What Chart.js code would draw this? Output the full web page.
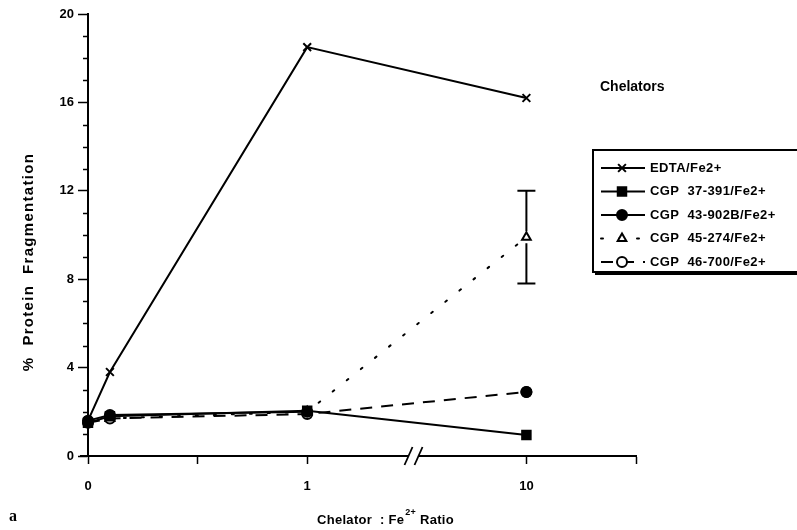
<!DOCTYPE html>
<html><head><meta charset="utf-8">
<script src="https://cdn.jsdelivr.net/npm/chart.js@4/dist/chart.umd.min.js"></script>
<style>html,body{margin:0;padding:0;background:#fff;}canvas{display:block;}</style>
</head><body>
<canvas id="c" width="797" height="530"></canvas>
<script>
// ---- data ----
const ratios = [0, 0.1, 1, 10];                 // Chelator : Fe2+ ratio
const edta      = [1.6, 3.8, 18.5, 16.2];
const cgp37391  = [1.5, 1.8, 2.05, 0.95];
const cgp43902B = [1.6, 1.85, 2.0, 2.9];
const cgp45274  = [1.6, 1.7, 2.0, 9.9];
const cgp46700  = [1.5, 1.7, 1.9, 2.9];
const err45274Low  = [null, null, null, 7.8];
const err45274High = [null, null, null, 12.0];
const seriesNames = ['EDTA/Fe2+', 'CGP  37-391/Fe2+', 'CGP  43-902B/Fe2+', 'CGP  45-274/Fe2+', 'CGP  46-700/Fe2+'];
const xTickPositions = [0, 1, 2, 4, 5];
const xTickLabels    = ['0', '', '1', '10', ''];
const yTickValues = [0, 4, 8, 12, 16, 20];

// broken axis: 0..1 linear, then 1 -> 10 after the break
const xPos = r => r <= 1 ? 2 * r : 2 + 2 * Math.log10(r);
const pts = arr => ratios.map((r, i) => ({x: xPos(r), y: arr[i]}));

Chart.defaults.font.family = "'Liberation Sans', Arial, sans-serif";
Chart.defaults.color = '#000';
const FF = "'Liberation Sans', Arial, sans-serif";

const extras = {
  id: 'extras',
  afterDraw(chart) {
    const ctx = chart.ctx, xs = chart.scales.x, ys = chart.scales.y;
    const left = chart.chartArea.left, bottom = chart.chartArea.bottom;
    ctx.save();
    ctx.strokeStyle = '#000'; ctx.fillStyle = '#000';
    // minor y ticks
    ctx.lineWidth = 1.5;
    for (let v = 0; v <= 20; v++) {
      if (v % 4 === 0) continue;
      const py = Math.round(ys.getPixelForValue(v)) + 0.5;
      ctx.beginPath(); ctx.moveTo(left - 5, py); ctx.lineTo(left, py); ctx.stroke();
    }
    // x axis small extension to the left
    ctx.lineWidth = 2;
    ctx.beginPath(); ctx.moveTo(left - 8, bottom); ctx.lineTo(left, bottom); ctx.stroke();
    // axis break
    const bx = xs.getPixelForValue(2.97);
    ctx.fillStyle = '#fff';
    ctx.fillRect(bx - 5, bottom - 3, 10, 6);
    ctx.strokeStyle = '#000'; ctx.lineWidth = 1.8;
    [-5, 5].forEach(d => {
      ctx.beginPath(); ctx.moveTo(bx + d - 4, bottom + 9); ctx.lineTo(bx + d + 4, bottom - 9); ctx.stroke();
    });
    // error bars
    ctx.lineWidth = 2;
    ratios.forEach((r, i) => {
      if (err45274Low[i] == null) return;
      const px = xs.getPixelForValue(xPos(r));
      const lo = ys.getPixelForValue(err45274Low[i]), hi = ys.getPixelForValue(err45274High[i]);
      const tri = ys.getPixelForValue(cgp45274[i]);
      ctx.beginPath();
      ctx.moveTo(px, hi); ctx.lineTo(px, tri - 6);
      ctx.moveTo(px, tri + 6); ctx.lineTo(px, lo);
      ctx.moveTo(px - 9, hi); ctx.lineTo(px + 9, hi);
      ctx.moveTo(px - 9, lo); ctx.lineTo(px + 9, lo);
      ctx.stroke();
    });
    // axis titles
    ctx.fillStyle = '#000';
    ctx.textBaseline = 'middle';
    ctx.font = "bold 15px " + FF;
    ctx.save();
    ctx.translate(29, 262); ctx.rotate(-Math.PI / 2);
    ctx.textAlign = 'center';
    ctx.letterSpacing = '1.3px';
    ctx.fillText('%  Protein  Fragmentation', 0, 0);
    ctx.restore();
    // x title with superscript
    ctx.font = "bold 13px " + FF;
    ctx.letterSpacing = '0.3px';
    const t1 = 'Chelator  : Fe', sup = '2+', t2 = ' Ratio';
    ctx.textAlign = 'left';
    const w1 = ctx.measureText(t1).width;
    ctx.font = "bold 9px " + FF;
    const ws = ctx.measureText(sup).width;
    ctx.font = "bold 13px " + FF;
    const w2 = ctx.measureText(t2).width;
    let sx = 385 - (w1 + ws + w2) / 2;
    const ty = 520;
    ctx.fillText(t1, sx, ty); sx += w1;
    ctx.font = "bold 9px " + FF;
    ctx.fillText(sup, sx + 1, ty - 7); sx += ws + 1;
    ctx.font = "bold 13px " + FF;
    ctx.fillText(t2, sx, ty);
    ctx.letterSpacing = '0px';
    // panel letter
    ctx.font = "bold 16px 'Liberation Serif', 'Times New Roman', serif";
    ctx.fillText('a', 9, 517);
    // legend
    ctx.font = "bold 14px " + FF;
    ctx.fillText('Chelators', 600, 87);
    const bx0 = 593, by0 = 150, bw = 230, bh = 122;
    ctx.lineWidth = 2; ctx.strokeStyle = '#000';
    ctx.strokeRect(bx0, by0, bw, bh);
    ctx.fillRect(bx0 + 2, by0 + bh, bw, 3);
    ctx.font = "bold 13px " + FF;
    ctx.letterSpacing = '0.4px';
    chart.data.datasets.forEach((ds, i) => {
      const ry = 168 + i * 23.5;
      ctx.save();
      ctx.strokeStyle = '#000';
      ctx.lineWidth = ds.borderWidth;
      ctx.lineCap = ds.borderCapStyle || 'butt';
      ctx.setLineDash(ds.borderDash || []);
      ctx.beginPath(); ctx.moveTo(601, ry); ctx.lineTo(645, ry); ctx.stroke();
      ctx.fillStyle = ds.pointBackgroundColor; ctx.strokeStyle = '#000'; ctx.lineWidth = ds.pointBorderWidth;
      ctx.setLineDash([]);
      Chart.helpers.drawPoint(ctx, {pointStyle: ds.pointStyle, radius: ds.pointRadius, borderWidth: ds.pointBorderWidth}, 622, ry);
      ctx.restore();
      ctx.fillStyle = '#000';
      ctx.textAlign = 'left';
      ctx.fillText(ds.label, 650, ry);
    });
    ctx.restore();
  }
};

const base = {borderColor: '#000', pointBorderColor: '#000', fill: false, tension: 0, clip: false, borderWidth: 2, pointBorderWidth: 2};

new Chart(document.getElementById('c'), {
  type: 'line',
  data: {
    datasets: [
      Object.assign({}, base, {label: seriesNames[0], data: pts(edta), pointStyle: 'crossRot', pointRadius: 5.5,
        pointBackgroundColor: '#000', order: 4}),
      Object.assign({}, base, {label: seriesNames[1], data: pts(cgp37391), pointStyle: 'rect', pointRadius: 6,
        pointBackgroundColor: '#000', order: 0}),
      Object.assign({}, base, {label: seriesNames[2], data: pts(cgp43902B), pointStyle: 'circle', pointRadius: 5,
        pointBackgroundColor: '#000', order: 1,
        segment: {borderColor: c => c.p1DataIndex === 3 ? 'rgba(0,0,0,0)' : undefined}}),
      Object.assign({}, base, {label: seriesNames[3], data: pts(cgp45274), pointStyle: 'triangle', pointRadius: 5,
        pointBackgroundColor: '#fff', borderDash: [2, 16], borderCapStyle: 'round', borderWidth: 2, order: 3}),
      Object.assign({}, base, {label: seriesNames[4], data: pts(cgp46700), pointStyle: 'circle', pointRadius: 5,
        pointBackgroundColor: '#fff', borderDash: [12, 9], order: 2}),
    ]
  },
  options: {
    responsive: false, animation: false,
    layout: {padding: {left: 0, top: 14, right: 161, bottom: 0}},
    plugins: {legend: {display: false}, tooltip: {enabled: false}},
    scales: {
      x: {
        type: 'linear', min: 0, max: 5,
        afterBuildTicks: s => { s.ticks = xTickPositions.map(v => ({value: v})); },
        afterFit: s => { s.height = 74; },
        ticks: {callback: v => xTickLabels[xTickPositions.indexOf(v)], font: {size: 13, weight: 'bold'},
          padding: 15, maxRotation: 0, autoSkip: false, color: '#000'},
        grid: {drawOnChartArea: false, drawTicks: true, tickLength: 8, tickColor: '#000', tickWidth: 1.5},
        border: {display: true, color: '#000', width: 2}
      },
      y: {
        type: 'linear', min: 0, max: 20,
        afterBuildTicks: s => { s.ticks = yTickValues.map(v => ({value: v})); },
        afterFit: s => { s.width = 88; },
        ticks: {font: {size: 13, weight: 'bold'}, padding: 4, color: '#000'},
        grid: {drawOnChartArea: false, drawTicks: true, tickLength: 10, tickColor: '#000', tickWidth: 1.5},
        border: {display: true, color: '#000', width: 2}
      }
    }
  },
  plugins: [extras]
});
</script>
</body></html>
